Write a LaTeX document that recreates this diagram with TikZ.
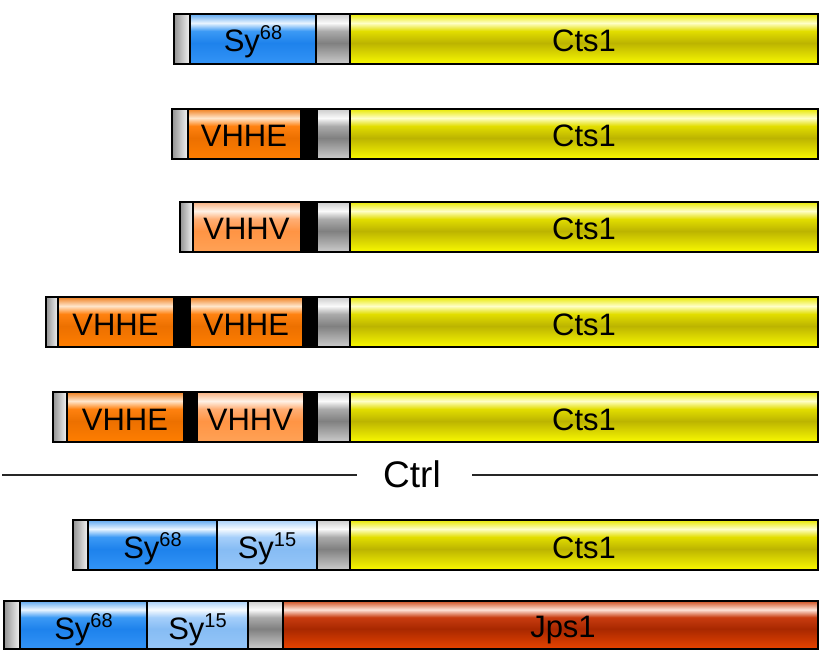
\documentclass[tikz,border=0pt]{standalone}
\usepackage{fontspec}
\setmainfont{Liberation Sans}
% colours: top, highlight, base, dark, bottom
\definecolor{yT}{HTML}{E8E800}\definecolor{yH}{HTML}{FFFFC8}\definecolor{yB}{HTML}{E2DE00}\definecolor{yD}{HTML}{BCB400}\definecolor{yL}{HTML}{FAFA00}
\definecolor{rT}{HTML}{D05020}\definecolor{rH}{HTML}{FFE4D8}\definecolor{rB}{HTML}{C83C10}\definecolor{rD}{HTML}{A82800}\definecolor{rL}{HTML}{E84400}
\definecolor{bT}{HTML}{60A8F0}\definecolor{bH}{HTML}{EAF5FF}\definecolor{bB}{HTML}{3C9AF5}\definecolor{bD}{HTML}{1E82EC}\definecolor{bL}{HTML}{3394F6}
\definecolor{lT}{HTML}{A8D0F8}\definecolor{lH}{HTML}{F6FBFF}\definecolor{lB}{HTML}{A6CFFA}\definecolor{lD}{HTML}{86BCF4}\definecolor{lL}{HTML}{96C6F8}
\definecolor{oT}{HTML}{F08020}\definecolor{oH}{HTML}{FFE6CC}\definecolor{oB}{HTML}{FF8210}\definecolor{oD}{HTML}{EC7000}\definecolor{oL}{HTML}{FF7E00}
\definecolor{pT}{HTML}{F8B080}\definecolor{pH}{HTML}{FFF2E6}\definecolor{pB}{HTML}{FFAE74}\definecolor{pD}{HTML}{FF9444}\definecolor{pL}{HTML}{FFA256}
\definecolor{gT}{HTML}{CCCCCC}\definecolor{gH}{HTML}{FAFAFA}\definecolor{gB}{HTML}{ABABAB}\definecolor{gD}{HTML}{808080}\definecolor{gL}{HTML}{CCCCCC}
\newcommand\mkshade[6]{\pgfdeclareverticalshading{#1}{100bp}{color(0bp)=(#6); color(25bp)=(#6); color(46bp)=(#5); color(58bp)=(#4); color(66bp)=(#3); color(75bp)=(#2); color(100bp)=(#2)}}
\mkshade{shY}{yT}{yH}{yB}{yD}{yL}
\mkshade{shR}{rT}{rH}{rB}{rD}{rL}
\mkshade{shB}{bT}{bH}{bB}{bD}{bL}
\mkshade{shL}{lT}{lH}{lB}{lD}{lL}
\mkshade{shO}{oT}{oH}{oB}{oD}{oL}
\mkshade{shP}{pT}{pH}{pB}{pD}{pL}
\mkshade{shG}{gT}{gH}{gB}{gD}{gL}
\newcommand\syLbl[1]{Sy\raisebox{12pt}{\fontsize{20}{20}\selectfont #1}}
\def\hgt{50}
% x0, x1, y, shading, node name, label
\newcommand\segBox[6]{%
  \shade[shading=#4] (#1,#3) rectangle (#2,#3+\hgt);
  \draw[divline] (#1,#3) -- (#1,#3+\hgt);
  \node[lbl] (#5) at ({(#1+#2)/2},#3+38) {#6};}
\newcommand\blkBox[3]{%
  \fill[black] (#1,#3) rectangle (#2,#3+\hgt);}
\newcommand\capBox[3]{%
  \shade[left color=gray!85, right color=white!92!gray] (#1,#3) rectangle (#2,#3+\hgt);}
\newcommand\frameBox[2]{%
  \draw[outer] (#1,#2) rectangle (818,#2+\hgt);}
\begin{document}
\begin{tikzpicture}[x=1pt,y=-1pt,
  lbl/.style={font=\fontsize{31}{31}\selectfont, anchor=base, inner sep=0pt},
  divline/.style={line width=2pt, black},
  outer/.style={line width=2.4pt, black},
  ctrlline/.style={line width=2.2pt, black!85}]
\useasboundingbox (0,0) rectangle (820,650);
% row 1
\capBox{174}{190}{14}
\segBox{190}{316}{14}{shB}{r1a}{\syLbl{68}}
\segBox{316}{350}{14}{shG}{r1g}{}
\segBox{350}{818}{14}{shY}{r1c}{Cts1}
\frameBox{174}{14}
% row 2
\capBox{172}{188}{109}
\segBox{188}{300}{109}{shO}{r2a}{VHHE}
\blkBox{300}{317}{109}
\segBox{317}{350}{109}{shG}{r2g}{}
\segBox{350}{818}{109}{shY}{r2c}{Cts1}
\frameBox{172}{109}
% row 3
\capBox{180}{193}{202}
\segBox{193}{300}{202}{shP}{r3a}{VHHV}
\blkBox{300}{317}{202}
\segBox{317}{350}{202}{shG}{r3g}{}
\segBox{350}{818}{202}{shY}{r3c}{Cts1}
\frameBox{180}{202}
% row 4
\capBox{46}{58}{297}
\segBox{58}{173}{297}{shO}{r4a}{VHHE}
\blkBox{173}{190}{297}
\segBox{190}{302}{297}{shO}{r4b}{VHHE}
\blkBox{302}{317}{297}
\segBox{317}{350}{297}{shG}{r4g}{}
\segBox{350}{818}{297}{shY}{r4c}{Cts1}
\frameBox{46}{297}
% row 5
\capBox{53}{67}{392}
\segBox{67}{183}{392}{shO}{r5a}{VHHE}
\blkBox{183}{197}{392}
\segBox{197}{303}{392}{shP}{r5b}{VHHV}
\blkBox{303}{317}{392}
\segBox{317}{350}{392}{shG}{r5g}{}
\segBox{350}{818}{392}{shY}{r5c}{Cts1}
\frameBox{53}{392}
% Ctrl separator
\node[font=\fontsize{37}{37}\selectfont, anchor=base, inner sep=0pt] (ctrl) at (412,487) {Ctrl};
\coordinate (cl1) at (2,475);
\coordinate (cl2) at (357,475);
\coordinate (cr1) at (472,475);
\coordinate (cr2) at (818,475);
\draw[ctrlline] (cl1) -- (cl2);
\draw[ctrlline] (cr1) -- (cr2);
% row 7
\capBox{73}{88}{520}
\segBox{88}{217}{520}{shB}{r7a}{\syLbl{68}}
\segBox{217}{317}{520}{shL}{r7b}{\syLbl{15}}
\segBox{317}{350}{520}{shG}{r7g}{}
\segBox{350}{818}{520}{shY}{r7c}{Cts1}
\frameBox{73}{520}
% row 8
\def\hgt{48}
\capBox{4}{20}{601}
\segBox{20}{147}{601}{shB}{r8a}{\syLbl{68}}
\segBox{147}{248}{601}{shL}{r8b}{\syLbl{15}}
\segBox{248}{283}{601}{shG}{r8g}{}
\shade[shading=shR] (283,601) rectangle (818,649);
\draw[divline] (283,601) -- (283,649);
\node[lbl] (r8c) at (563,637) {Jps1};
\frameBox{4}{601}
\end{tikzpicture}
\end{document}
